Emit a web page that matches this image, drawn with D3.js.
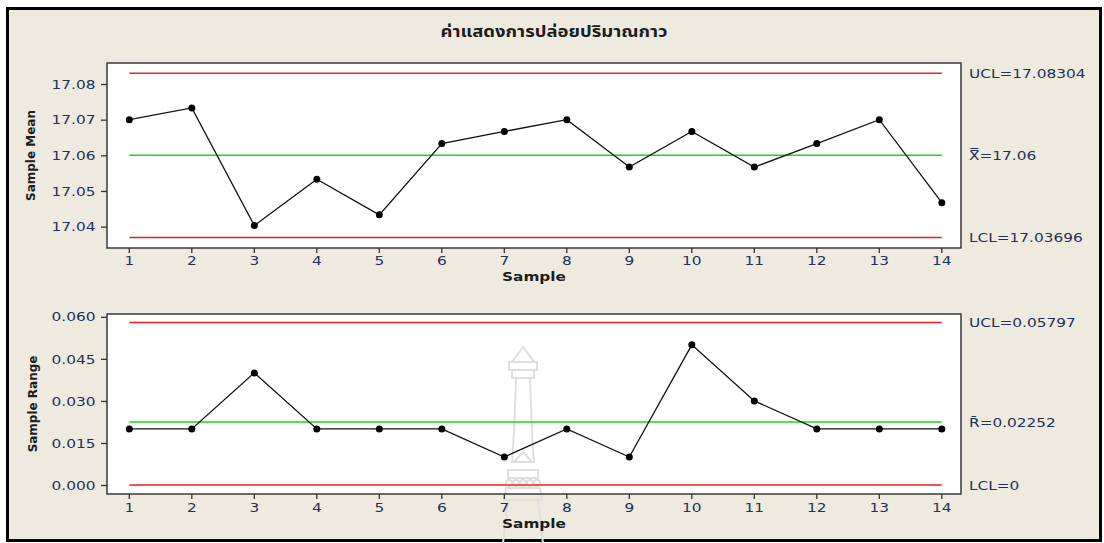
<!DOCTYPE html>
<html>
<head>
<meta charset="utf-8">
<script src="https://cdn.jsdelivr.net/npm/d3@7/dist/d3.min.js"></script>
<style>
  body { margin: 0; background: #fff; }
  svg { display: block; }
</style>
</head>
<body>
<svg id="chart" width="1104" height="543"></svg>
<script>
// ---- data ----
const chartTitle = "ค่าแสดงการปล่อยปริมาณกาว";
const samples = [1, 2, 3, 4, 5, 6, 7, 8, 9, 10, 11, 12, 13, 14];
const sampleMeans = [17.0700, 17.0733, 17.0403, 17.0533, 17.0433, 17.0633, 17.0667,
                     17.0700, 17.0567, 17.0667, 17.0567, 17.0633, 17.0700, 17.0467];
const sampleRanges = [0.020, 0.020, 0.040, 0.020, 0.020, 0.020, 0.010,
                      0.020, 0.010, 0.050, 0.030, 0.020, 0.020, 0.020];
const meanLimitValues = [17.08304, 17.06, 17.03696];
const meanLimitLabels = ["UCL=17.08304", "X\u033F=17.06", "LCL=17.03696"];
const rangeLimitValues = [0.05797, 0.02252, 0];
const rangeLimitLabels = ["UCL=0.05797", "R\u0304=0.02252", "LCL=0"];
const meanTicks = [17.04, 17.05, 17.06, 17.07, 17.08];
const rangeTicks = [0.000, 0.015, 0.030, 0.045, 0.060];
const xTitle = "Sample";
const meanYTitle = "Sample Mean";
const rangeYTitle = "Sample Range";

// ---- styling ----
const SX = 1.18;                  // horizontal text stretch
const bg = "#eeeae0";
const textColor = "#23305a";
const titleColor = "#1d1d1d";
const redLine = "#f01f1f";
const greenLine = "#12dc12";

const svg = d3.select("#chart");

// page background and frame
svg.append("rect").attr("x", 0).attr("y", 0).attr("width", 1104).attr("height", 543).attr("fill", "#fff");
svg.append("rect").attr("x", 7.5).attr("y", 8.5).attr("width", 1093).attr("height", 532)
  .attr("fill", bg).attr("stroke", "#000").attr("stroke-width", 3);

// chart title
svg.append("text")
  .attr("transform", "translate(554,37) scale(1.12,1)")
  .attr("text-anchor", "middle")
  .attr("font-family", "'Noto Sans Thai', Tahoma, 'Noto Sans', sans-serif")
  .attr("font-weight", "bold")
  .attr("font-size", 16.5)
  .attr("fill", titleColor)
  .text(chartTitle);

const x = d3.scaleLinear().domain([0.643, 14.307]).range([107, 961]);

function drawPanel(cfg) {
  const g = svg.append("g");
  const y = d3.scaleLinear().domain(cfg.domain).range([cfg.bottom, cfg.top]);

  // plot area
  g.append("rect")
    .attr("x", x.range()[0]).attr("y", cfg.top)
    .attr("width", x.range()[1] - x.range()[0]).attr("height", cfg.bottom - cfg.top)
    .attr("fill", "#fff");

  // watermark emblem (lower panel only)
  if (cfg.emblem) cfg.emblem(g);

  // control limits
  cfg.limits.forEach((v, i) => {
    g.append("line")
      .attr("x1", x(samples[0])).attr("x2", x(samples[samples.length - 1]))
      .attr("y1", y(v)).attr("y2", y(v))
      .attr("stroke", i === 1 ? greenLine : redLine)
      .attr("stroke-width", 1.5);
    g.append("text")
      .attr("transform", `translate(969,${y(v) + 5}) scale(${SX},1)`)
      .attr("font-family", "'DejaVu Sans', Verdana, sans-serif")
      .attr("font-size", 13)
      .attr("fill", textColor)
      .text(cfg.limitLabels[i]);
  });

  // data line and markers
  const line = d3.line().x((d, i) => x(samples[i])).y(d => y(d));
  g.append("path").datum(cfg.values)
    .attr("d", line).attr("fill", "none")
    .attr("stroke", "#111").attr("stroke-width", 1.3);
  g.selectAll("circle.pt").data(cfg.values).join("circle")
    .attr("class", "pt")
    .attr("cx", (d, i) => x(samples[i])).attr("cy", d => y(d))
    .attr("r", 3.5).attr("fill", "#000");

  // frame
  g.append("rect")
    .attr("x", x.range()[0]).attr("y", cfg.top)
    .attr("width", x.range()[1] - x.range()[0]).attr("height", cfg.bottom - cfg.top)
    .attr("fill", "none").attr("stroke", "#3a3a3a").attr("stroke-width", 1.5);

  // y axis
  const yAxis = g.append("g").attr("transform", `translate(${x.range()[0]},0)`)
    .call(d3.axisLeft(y).tickValues(cfg.ticks).tickFormat(cfg.fmt).tickSize(6).tickSizeOuter(0));
  yAxis.select(".domain").remove();
  yAxis.selectAll(".tick line").attr("stroke", "#333").attr("stroke-width", 1.3);
  yAxis.selectAll(".tick text")
    .attr("x", -11.5 / SX)
    .attr("transform", `scale(${SX},1)`)
    .attr("font-family", "'DejaVu Sans', Verdana, sans-serif")
    .attr("font-size", 13).attr("fill", textColor);

  // x axis
  const xAxis = g.append("g").attr("transform", `translate(0,${cfg.bottom})`)
    .call(d3.axisBottom(x).tickValues(samples).tickFormat(d3.format("d")).tickSize(5).tickPadding(cfg.xPad).tickSizeOuter(0));
  xAxis.select(".domain").remove();
  xAxis.selectAll(".tick line").attr("stroke", "#333").attr("stroke-width", 1.3);
  xAxis.selectAll(".tick text")
    .attr("font-family", "'DejaVu Sans', Verdana, sans-serif")
    .attr("font-size", 13).attr("fill", textColor)
    .attr("transform", `scale(${SX},1)`);
  // keep tick labels centred on their ticks after the stretch
  xAxis.selectAll(".tick").each(function (d) {
    d3.select(this).attr("transform", null);
    d3.select(this).select("line").attr("x1", x(d)).attr("x2", x(d));
    d3.select(this).select("text").attr("x", x(d) / SX);
  });

  // axis titles
  g.append("text")
    .attr("transform", `translate(${(x.range()[0] + x.range()[1]) / 2},${cfg.xTitleY}) scale(${SX},1)`)
    .attr("text-anchor", "middle")
    .attr("font-family", "'DejaVu Sans', Verdana, sans-serif")
    .attr("font-weight", "bold").attr("font-size", 13)
    .attr("fill", titleColor)
    .text(xTitle);
  g.append("text")
    .attr("transform", `translate(${cfg.yTitleX},${(cfg.top + cfg.bottom) / 2}) rotate(-90) scale(1,1.08)`)
    .attr("text-anchor", "middle")
    .attr("font-family", "'DejaVu Sans', Verdana, sans-serif")
    .attr("font-weight", "bold").attr("font-size", 12)
    .attr("fill", titleColor)
    .text(cfg.yTitle);
}

// faint emblem printed behind the range chart
function emblem(g) {
  const e = g.append("g").attr("fill", "none").attr("stroke", "#dedede").attr("stroke-width", 2);
  e.append("path").attr("d",
    "M523,347 L512,362 L534,362 Z M509,362 L537,362 L537,370 L509,370 Z" +
    " M512,370 L534,370 L534,378 L512,378 Z" +
    " M516,378 C515,410 514,440 512,462 L534,462 C532,440 531,410 530,378" +
    " M514,462 L523,452 L532,462 M508,470 L538,470 L538,478 L508,478 Z" +
    " M506,488 L540,488 L542,500 L504,500 Z M508,500 C506,515 505,528 503,543 M538,500 C540,515 541,528 543,543");
  [511, 518, 525, 532, 539].forEach(cx => {
    e.append("circle").attr("cx", cx - 2).attr("cy", 483).attr("r", 3);
  });
}

drawPanel({
  top: 63, bottom: 248,
  domain: [17.0340, 17.0859],
  values: sampleMeans,
  limits: meanLimitValues, limitLabels: meanLimitLabels,
  ticks: meanTicks, fmt: d3.format(".2f"),
  xPad: 3, xTitleY: 281, yTitle: meanYTitle, yTitleX: 35
});

drawPanel({
  top: 314, bottom: 494,
  domain: [-0.0032, 0.0610],
  values: sampleRanges,
  limits: rangeLimitValues, limitLabels: rangeLimitLabels,
  ticks: rangeTicks, fmt: d3.format(".3f"),
  xPad: 4, xTitleY: 528, yTitle: rangeYTitle, yTitleX: 37,
  emblem: emblem
});
</script>
</body>
</html>
